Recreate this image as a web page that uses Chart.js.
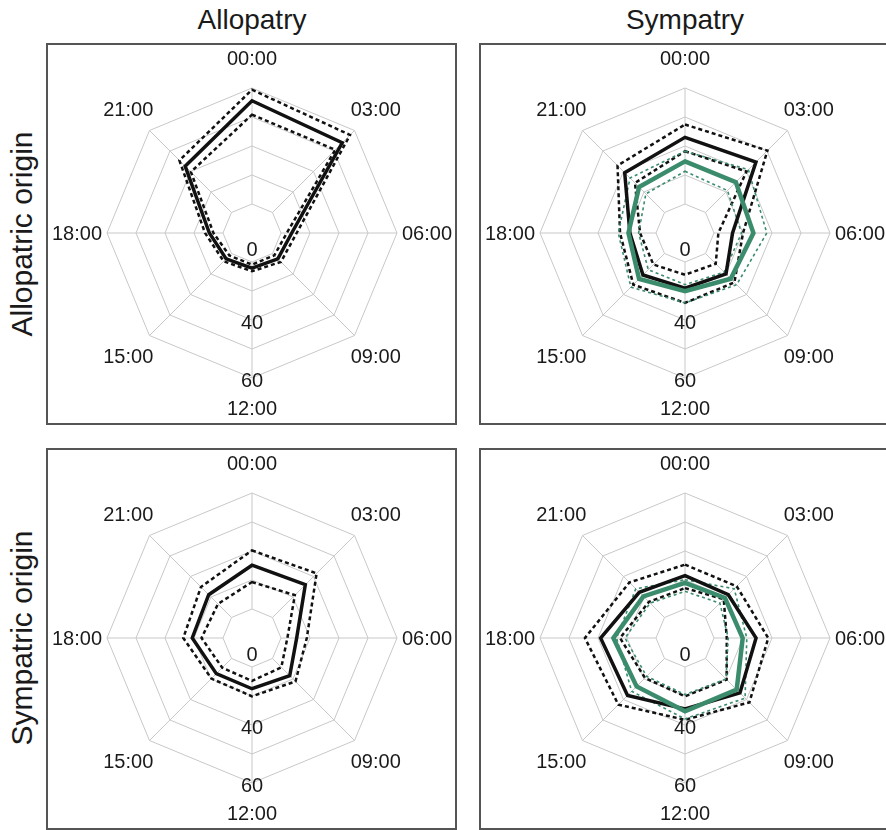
<!DOCTYPE html>
<html>
<head>
<meta charset="utf-8">
<script src="https://cdn.jsdelivr.net/npm/chart.js@4.4.1/dist/chart.umd.min.js"></script>
<style>
  html, body { margin: 0; padding: 0; background: #ffffff; }
  body { width: 886px; height: 830px; position: relative; overflow: hidden;
         font-family: "Liberation Sans", Arial, Helvetica, sans-serif; color: #1a1a1a; }
  .frame { position: absolute; box-sizing: border-box; width: 411px; height: 382px;
           border: 2px solid #555555; pointer-events: none; }
  canvas.radar { position: absolute; }
  .colTitle { position: absolute; top: 3px; width: 300px; text-align: center;
              font-size: 28px; line-height: 34px; }
  .rowTitle { position: absolute; width: 300px; text-align: center; font-size: 30px;
              line-height: 34px; transform: rotate(-90deg); transform-origin: 50% 50%; }
</style>
</head>
<body>
<div class="colTitle" style="left:102px">Allopatry</div>
<div class="colTitle" style="left:535px">Sympatry</div>
<div class="rowTitle" style="left:-128px; top:217px">Allopatric origin</div>
<div class="rowTitle" style="left:-128px; top:621px">Sympatric origin</div>

<canvas class="radar" id="pAA" width="409" height="380" style="left:47px; top:44px"></canvas>
<canvas class="radar" id="pAS" width="409" height="380" style="left:480px; top:44px"></canvas>
<canvas class="radar" id="pSA" width="409" height="380" style="left:47px; top:449px"></canvas>
<canvas class="radar" id="pSS" width="409" height="380" style="left:480px; top:449px"></canvas>

<div class="frame" style="left:46px; top:43px"></div>
<div class="frame" style="left:479px; top:43px"></div>
<div class="frame" style="left:46px; top:448px"></div>
<div class="frame" style="left:479px; top:448px"></div>

<script>
// Time of day around the dial (clockwise from the top)
const hours = ["00:00", "03:00", "06:00", "09:00", "12:00", "15:00", "18:00", "21:00"];

// Radial axis: value at the centre, outer ring, ring step, and printed labels
const axisFloor = 10;
const axisCeil = 60;
const axisStep = 10;
const axisLabelValues = [0, 40, 60];
const axisLabelTexts = ["0", "40", "60"];

// Allopatric origin, tested in allopatry
const aaMean  = [55.6, 54.0, 23.7, 22.6, 22.1, 22.6, 24.7, 42.6];
const aaUpper = [59.4, 57.8, 25.4, 24.1, 23.2, 23.8, 26.2, 45.4];
const aaLower = [50.8, 50.6, 22.0, 20.9, 20.9, 21.0, 23.3, 39.8];

// Allopatric origin, tested in sympatry
const asMean   = [43.0, 44.6, 26.4, 30.0, 29.0, 30.5, 29.0, 39.4];
const asUpper  = [47.4, 50.2, 30.0, 34.1, 34.1, 35.2, 32.4, 42.9];
const asLower  = [38.2, 40.0, 21.5, 25.0, 24.4, 25.4, 25.5, 34.4];
const asMeanB  = [34.7, 34.8, 33.6, 32.3, 30.1, 32.4, 29.5, 32.4];
const asUpperB = [38.2, 40.9, 38.2, 35.2, 34.1, 36.4, 33.0, 36.8];
const asLowerB = [31.3, 30.7, 29.5, 29.1, 27.8, 27.9, 26.0, 29.1];

// Sympatric origin, tested in allopatry
const saMean  = [35.1, 36.0, 25.4, 28.4, 27.5, 27.4, 30.6, 31.1];
const saUpper = [40.2, 41.5, 28.9, 31.2, 30.1, 29.8, 33.7, 34.9];
const saLower = [29.3, 30.9, 22.2, 24.3, 24.8, 24.5, 27.4, 26.6];

// Sympatric origin, tested in sympatry
const ssMean   = [31.5, 31.1, 34.5, 36.8, 34.5, 38.0, 39.1, 32.3];
const ssUpper  = [35.3, 35.2, 38.7, 41.4, 38.2, 42.5, 44.5, 37.1];
const ssLower  = [27.2, 28.9, 24.4, 30.3, 30.1, 29.5, 32.4, 27.6];
const ssMeanB  = [29.0, 29.5, 29.9, 35.2, 35.3, 33.6, 34.7, 30.3];
const ssUpperB = [30.1, 34.0, 31.3, 39.3, 37.9, 36.0, 33.6, 34.0];
const ssLowerB = [26.1, 27.0, 24.9, 30.0, 29.5, 28.7, 30.7, 27.0];

const INK = "#111111";
const GREEN = "#3b8c6c";
const GRID = "#c8c8c8";
const FONT = '"Liberation Sans", Arial, Helvetica, sans-serif';

function meanLine(data, color, width, order) {
  return { data, borderColor: color, borderWidth: width, fill: false,
           pointRadius: 0, borderJoinStyle: "miter", order };
}
function bandLine(data, color, width, dash, order) {
  return { data, borderColor: color, borderWidth: width, fill: false,
           pointRadius: 0, borderDash: dash, borderJoinStyle: "miter", order };
}

// Spokes start at the first ring; hour labels sit centred outside the dial;
// axis labels run down the 12:00 spoke.
const dialDecor = {
  id: "dialDecor",
  beforeDatasetsDraw(chart) {
    const s = chart.scales.r;
    const ctx = chart.ctx;
    ctx.save();
    ctx.strokeStyle = GRID;
    ctx.lineWidth = 1;
    const rIn = s.getDistanceFromCenterForValue(axisFloor + axisStep);
    const rOut = s.getDistanceFromCenterForValue(axisCeil);
    hours.forEach((h, i) => {
      const a = s.getPointPosition(i, rIn);
      const b = s.getPointPosition(i, rOut);
      ctx.beginPath();
      ctx.moveTo(a.x, a.y);
      ctx.lineTo(b.x, b.y);
      ctx.stroke();
    });
    // axis values along the 12:00 spoke
    ctx.fillStyle = "#1a1a1a";
    ctx.font = "20px " + FONT;
    ctx.textAlign = "center";
    ctx.textBaseline = "middle";
    const spoke = hours.indexOf("12:00");
    axisLabelValues.forEach((v, k) => {
      const d = v <= s.min ? 17 : s.getDistanceFromCenterForValue(v) + 3;
      const p = s.getPointPosition(spoke, d);
      ctx.fillText(axisLabelTexts[k], p.x, p.y);
    });
    ctx.restore();
  },
  afterDatasetsDraw(chart) {
    const s = chart.scales.r;
    const ctx = chart.ctx;
    ctx.save();
    ctx.fillStyle = "#1a1a1a";
    ctx.font = "20px " + FONT;
    ctx.textAlign = "center";
    ctx.textBaseline = "middle";
    const rLab = s.getDistanceFromCenterForValue(axisCeil) + 30;
    hours.forEach((h, i) => {
      const p = s.getPointPosition(i, rLab);
      ctx.fillText(h, p.x, p.y + 1);
    });
    ctx.restore();
  }
};

function makeRadar(id, datasets) {
  return new Chart(document.getElementById(id), {
    type: "radar",
    data: { labels: hours, datasets },
    plugins: [dialDecor],
    options: {
      responsive: false,
      devicePixelRatio: 1,
      animation: false,
      events: [],
      layout: { padding: { left: 60, right: 59, top: 44, bottom: 46 } },
      plugins: { legend: { display: false }, tooltip: { enabled: false } },
      elements: { line: { tension: 0 } },
      scales: {
        r: {
          min: axisFloor,
          max: axisCeil,
          ticks: { display: false, stepSize: axisStep },
          pointLabels: { display: false },
          angleLines: { display: false },
          grid: { display: true, circular: false, color: GRID, lineWidth: 1 }
        }
      }
    }
  });
}

makeRadar("pAA", [
  meanLine(aaMean, INK, 3.5, 1),
  bandLine(aaUpper, INK, 2.5, [4, 3], 3),
  bandLine(aaLower, INK, 2.5, [4, 3], 3)
]);

makeRadar("pAS", [
  meanLine(asMeanB, GREEN, 4.5, 0),
  meanLine(asMean, INK, 3.5, 1),
  bandLine(asUpperB, GREEN, 1.6, [3, 3], 2),
  bandLine(asLowerB, GREEN, 1.6, [3, 3], 2),
  bandLine(asUpper, INK, 2.5, [4, 3], 3),
  bandLine(asLower, INK, 2.5, [4, 3], 3)
]);

makeRadar("pSA", [
  meanLine(saMean, INK, 3.5, 1),
  bandLine(saUpper, INK, 2.5, [4, 3], 3),
  bandLine(saLower, INK, 2.5, [4, 3], 3)
]);

makeRadar("pSS", [
  meanLine(ssMeanB, GREEN, 4.5, 0),
  meanLine(ssMean, INK, 3.5, 1),
  bandLine(ssUpperB, GREEN, 1.6, [3, 3], 2),
  bandLine(ssLowerB, GREEN, 1.6, [3, 3], 2),
  bandLine(ssUpper, INK, 2.5, [4, 3], 3),
  bandLine(ssLower, INK, 2.5, [4, 3], 3)
]);
</script>
</body>
</html>
